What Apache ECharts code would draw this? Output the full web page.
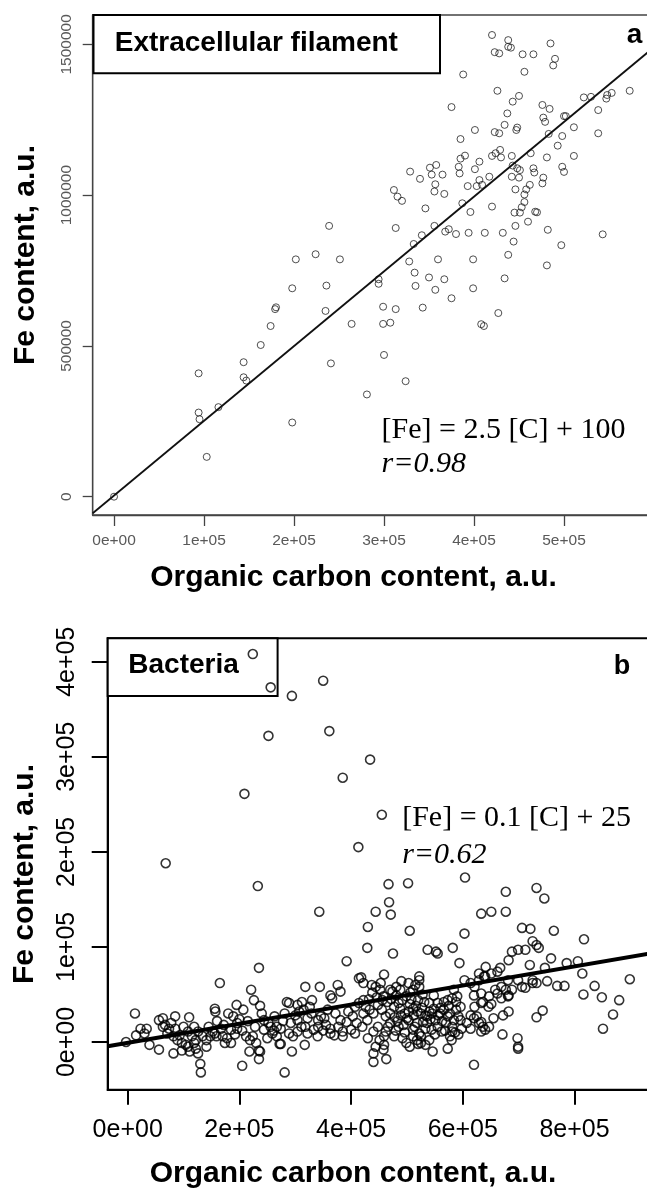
<!DOCTYPE html>
<html><head><meta charset="utf-8">
<script src="https://cdn.jsdelivr.net/npm/echarts@6.0.0/dist/echarts.min.js"></script>
<style>html,body{margin:0;padding:0;background:#fff}#c{width:647px;height:1188px}</style>
</head><body><div id="c"></div>
<script>
// ---- tick values and labels ----
const A_X_TICKS = [0, 100000, 200000, 300000, 400000, 500000];
const A_X_LABELS = ['0e+00', '1e+05', '2e+05', '3e+05', '4e+05', '5e+05'];
const A_Y_TICKS = [0, 500000, 1000000, 1500000];
const A_Y_LABELS = ['0', '500000', '1000000', '1500000'];
const B_X_TICKS = [0, 200000, 400000, 600000, 800000];
const B_X_LABELS = ['0e+00', '2e+05', '4e+05', '6e+05', '8e+05'];
const B_Y_TICKS = [0, 100000, 200000, 300000, 400000];
const B_Y_LABELS = ['0e+00', '1e+05', '2e+05', '3e+05', '4e+05'];

// ---- panel a: extracellular filament [organic carbon, Fe] ----
const A_POINTS = [
[420000,1531000],[438000,1514000],[438000,1492000],[441000,1489000],[423000,1474000],[428000,1470000],[454000,1467000],[466000,1467000],
[485000,1503000],[490000,1452000],[488000,1430000],[456000,1409000],[388000,1400000],[426000,1346000],[450000,1329000],[443000,1310000],
[375000,1292000],[476000,1299000],[484000,1286000],[437000,1271000],[477000,1257000],[479000,1243000],[500000,1262000],[502000,1262000],
[434000,1233000],[401000,1216000],[423000,1209000],[428000,1205000],[448000,1224000],[447000,1216000],[483000,1203000],[498000,1196000],
[511000,1225000],[385000,1186000],[493000,1164000],[522000,1324000],[530000,1326000],[547000,1320000],[548000,1332000],[553000,1339000],
[573000,1346000],[538000,1282000],[538000,1205000],[385000,1121000],[390000,1131000],[406000,1111000],[420000,1130000],[424000,1139000],
[429000,1150000],[430000,1125000],[442000,1130000],[463000,1139000],[481000,1125000],[511000,1130000],[383000,1094000],[384000,1072000],
[401000,1086000],[406000,1050000],[409000,1034000],[417000,1061000],[393000,1030000],[403000,1030000],[443000,1098000],[448000,1089000],
[451000,1083000],[466000,1089000],[467000,1075000],[498000,1094000],[500000,1077000],[442000,1061000],[450000,1058000],[462000,1034000],
[458000,1019000],[456000,1002000],[477000,1058000],[476000,1039000],[446000,1019000],
[351000,1091000],[358000,1100000],[365000,1068000],[353000,1068000],[329000,1078000],[340000,1054000],[357000,1036000],[356000,1012000],
[367000,1004000],[311000,1017000],[315000,995000],[320000,981000],[346000,956000],[313000,891000],[356000,898000],[368000,879000],
[372000,887000],[342000,867000],[333000,838000],[328000,780000],[360000,787000],[334000,743000],[335000,699000],[350000,727000],
[367000,721000],[357000,686000],[239000,898000],[202000,787000],[224000,804000],[251000,787000],[198000,691000],[236000,700000],
[294000,721000],[294000,706000],[387000,973000],[396000,944000],[420000,962000],[380000,871000],[394000,875000],[412000,875000],
[432000,875000],[399000,787000],[399000,691000],[375000,658000],[444000,846000],[438000,802000],[434000,724000],[482000,885000],
[497000,834000],[481000,767000],[543000,870000],[446000,898000],[460000,912000],[468000,945000],[470000,943000],[451000,942000],
[445000,942000],[453000,960000],[456000,977000],
[180000,628000],[179000,622000],[235000,616000],[174000,566000],[163000,503000],[144000,446000],[144000,396000],[147000,385000],
[94000,409000],[94000,279000],[95000,257000],[116000,297000],[103000,132000],[198000,246000],[0,0],[241000,442000],
[264000,573000],[299000,630000],[313000,622000],[343000,627000],[299000,573000],[307000,577000],[300000,470000],[324000,383000],
[281000,339000],[408000,572000],[411000,566000],[427000,609000]
];
const A_FIT = [[-23700, -55000], [604000, 1500400]];

// ---- panel b: bacteria [organic carbon, Fe] ----
const B_POINTS = [
[224000,408000],[256000,373000],[294000,364000],[350000,380000],[252000,322000],[361000,327000],[434000,297000],[385000,278000],
[209000,261000],[455000,239000],[413000,205000],[68000,188000],[233000,164000],[467000,166000],[502000,167000],[604000,173000],
[677000,158000],[732000,162000],[746000,151000],[444000,137000],[468000,147000],[471000,134000],[343000,137000],[633000,135000],
[651000,137000],[677000,137000],[430000,121000],[505000,117000],[603000,114000],[706000,120000],[721000,119000],[763000,117000],
[817000,108000],[725000,106000],[732000,102000],[736000,99000],[688000,95000],[699000,97000],[712000,97000],[429000,99000],
[475000,93000],[537000,97000],[552000,95000],[555000,93000],[582000,99000],[594000,83000],[758000,88000],[682000,86000],
[720000,81000],[747000,78000],[786000,83000],[806000,85000],[641000,79000],[667000,78000],[392000,85000],[235000,78000],
[459000,71000],[418000,68000],[522000,69000],[629000,72000],[638000,69000],[814000,72000],[836000,59000],[899000,66000],
[816000,50000],[849000,47000],[880000,44000],[869000,29000],[851000,14000],[712000,57000],[725000,62000],[751000,64000],
[769000,59000],[782000,59000],[743000,33000],[732000,26000],[698000,4000],[699000,-5000],[699000,-7000],[671000,8000],
[620000,-24000],[573000,-7000],[546000,-10000],[459000,-3000],[440000,-12000],[440000,-21000],[463000,-18000],[281000,-32000],
[294000,-10000],[272000,-2000],[317000,-3000],[205000,-25000],[235000,-9000],[235000,-18000],[130000,-23000],[131000,-32000],
[82000,-12000],[614000,28000],[620000,25000],[629000,20000],[636000,16000],[633000,11000],[581000,11000],[592000,8000],
[655000,25000],[672000,28000],[682000,32000],[620000,49000],[633000,51000],[636000,42000],[646000,37000],[651000,40000],
[662000,51000],[669000,46000],[677000,55000],[682000,49000],[681000,65000],
[13000,30000],[-3000,0],[15000,7000],[30000,9000],[23000,14000],[34000,14000],[39000,-3000],[56000,-8000],
[63000,25000],[85000,27000],[67000,18000],[74000,14000],[82000,6000],[89000,2000],[97000,-1000],[104000,-3000],
[110000,26000],[119000,16000],[126000,11000],[134000,6000],[141000,2000],[119000,-1000],[108000,-5000],[122000,-7000],
[156000,35000],[157000,32000],[165000,62000],[145000,16000],[152000,11000],[159000,6000],[167000,14000],[174000,-1000],
[185000,13000],[196000,20000],[200000,24000],[195000,39000],[207000,34000],[221000,55000],[226000,44000],[237000,38000],
[212000,6000],[219000,2000],[224000,6000],[230000,-1000],[218000,-10000],[237000,-10000],[244000,23000],[256000,16000],
[263000,27000],[267000,16000],[281000,30000],[285000,42000],[289000,41000],[304000,39000],[307000,32000],[274000,-2000],
[292000,20000],[304000,23000],[318000,16000],[318000,58000],[315000,34000],[326000,37000],[329000,30000],[322000,25000],
[341000,23000],[346000,27000],[352000,25000],[344000,58000],[363000,49000],[366000,46000],[376000,60000],[381000,53000],
[363000,9000],[381000,23000],[385000,11000],[403000,27000],[422000,30000],[407000,37000],[414000,41000],[422000,44000],
[414000,67000],[422000,62000],[437000,60000],[444000,58000],[453000,62000],[426000,37000],[433000,34000],[440000,30000],
[448000,39000],[455000,34000],[462000,27000],[470000,30000],[477000,37000],[485000,41000],[492000,44000],[499000,48000],
[429000,23000],[440000,11000],[448000,16000],[462000,11000],[470000,20000],[477000,6000],[485000,16000],[492000,4000],
[499000,-1000],[511000,13000],[518000,20000],[525000,6000],[533000,14000],[540000,2000],[481000,58000],[488000,55000],
[503000,62000],[511000,55000],[522000,58000],[522000,65000],[503000,32000],[511000,35000],[519000,32000],[525000,30000],
[533000,28000],[540000,32000],[548000,35000],[555000,41000],[566000,42000],[573000,44000],[581000,46000],[588000,42000],
[596000,37000],[592000,27000],[584000,23000],[577000,30000],[570000,20000],[540000,41000],[548000,49000],[555000,16000],
[562000,11000],[577000,6000],[584000,55000],[603000,65000],[614000,62000],[621000,58000],[607000,20000],[614000,14000],
[625000,27000],[633000,21000],[640000,13000],[647000,16000],[629000,65000],[640000,69000],[651000,72000],[662000,74000],
[699000,65000],[706000,58000],[725000,65000],[732000,62000],
[56000,23000],[63000,16000],[71000,9000],[78000,20000],[85000,14000],[93000,7000],[100000,16000],[108000,11000],
[115000,6000],[122000,2000],[97000,-9000],[111000,-10000],[126000,-12000],[141000,-5000],[148000,6000],[156000,9000],
[170000,6000],[178000,4000],[185000,-1000],[189000,27000],[196000,14000],
[244000,13000],[252000,20000],[259000,9000],[267000,6000],[274000,14000],[289000,9000],[296000,6000],[304000,11000],
[311000,16000],[322000,9000],[333000,13000],[341000,16000],[355000,18000],[363000,14000],[370000,7000],[377000,16000],
[385000,6000],[392000,21000],[400000,13000],[407000,9000],
[474000,53000],[481000,49000],[488000,35000],[496000,30000],[503000,23000],[514000,16000],[522000,9000],[529000,21000],
[536000,27000],[544000,13000],[551000,23000],[559000,30000],[566000,34000],[573000,27000],[581000,16000],[588000,34000],
[596000,23000],[511000,6000],[518000,2000],[525000,-1000],[533000,-3000],[466000,16000],[459000,6000],[451000,2000],
[444000,-5000],
[621000,37000],[633000,41000],[647000,48000],[658000,55000],[669000,58000],[681000,48000],[688000,55000],
[432000,45000],[438000,52000],[446000,47000],[452000,55000],[458000,48000],[465000,42000],[472000,45000],[478000,26000],
[483000,22000],[489000,28000],[494000,18000],[500000,25000],[505000,40000],[508000,45000],[512000,28000],[516000,38000],
[520000,44000],[527000,36000],[531000,42000],[536000,20000],[542000,24000],[545000,30000],[550000,8000],[556000,28000],
[560000,36000],[563000,22000],[568000,12000],[575000,38000],[580000,2000],[586000,10000],[590000,48000],[598000,14000],
[506000,52000],[515000,60000],[528000,50000],[490000,64000],[470000,55000],[456000,44000],[480000,12000],[496000,10000],
[505000,-5000],[520000,-2000],[458000,-8000],[430000,4000],[420000,16000],
[160000,22000],[172000,18000],[180000,30000],[192000,8000],[205000,12000],[215000,22000],[228000,16000],[240000,30000],
[250000,4000],[262000,12000],[278000,22000],[300000,28000],[312000,42000],[330000,44000],[340000,6000],[350000,12000],
[358000,34000],[372000,30000],[395000,32000],[410000,20000]
];
const B_FIT = [[-35810, -4500], [931600, 92700]];

// ---- texts ----
const TITLE_A = 'Extracellular filament';
const TITLE_B = 'Bacteria';
const EQ_A = ['[Fe] = 2.5 [C] + 100', 'r=0.98'];
const EQ_B = ['[Fe] = 0.1 [C] + 25', 'r=0.62'];
const X_NAME = 'Organic carbon content, a.u.';
const Y_NAME = 'Fe content, a.u.';

const SANS = '"Liberation Sans", Arial, sans-serif';
const SERIF = '"Liberation Serif", "Times New Roman", serif';
function fmt(ticks, labels) { return function (v) { const i = ticks.indexOf(v); return i < 0 ? '' : labels[i]; }; }

const chart = echarts.init(document.getElementById('c'), null, { renderer: 'canvas', width: 647, height: 1188 });

function axisCommon(color, labelColor, w, len, ticks, labels, fontSize, margin, rotate) {
  return {
    axisLine: { show: true, onZero: false, lineStyle: { color: color, width: w } },
    axisTick: { show: true, inside: false, length: len, customValues: ticks, lineStyle: { color: color, width: w } },
    axisLabel: { show: true, customValues: ticks, formatter: fmt(ticks, labels), rotate: rotate,
      color: labelColor, fontSize: fontSize, fontFamily: SANS, margin: margin },
    splitLine: { show: false }
  };
}

const option = {
  animation: false,
  backgroundColor: '#fff',
  grid: [
    { left: 92.7, top: 15, width: 564.9, height: 500, show: true, borderColor: '#444', borderWidth: 1.3,
      backgroundColor: 'rgba(0,0,0,0)', containLabel: false, outerBoundsMode: 'none' },
    { left: 107.7, top: 638.3, width: 540.3, height: 451.4, show: true, borderColor: '#000', borderWidth: 2,
      backgroundColor: 'rgba(0,0,0,0)', containLabel: false, outerBoundsMode: 'none' }
  ],
  xAxis: [
    Object.assign({ type: 'value', gridIndex: 0, min: -23700, max: 604000 },
      axisCommon('#444', '#595959', 1.3, 11, A_X_TICKS, A_X_LABELS, 15.5, 18, 0)),
    Object.assign({ type: 'value', gridIndex: 1, min: -35810, max: 931600 },
      axisCommon('#000', '#000', 2, 15, B_X_TICKS, B_X_LABELS, 25, 28, 0))
  ],
  yAxis: [
    Object.assign({ type: 'value', gridIndex: 0, min: -60700, max: 1597300 },
      axisCommon('#444', '#595959', 1.3, 10, A_Y_TICKS, A_Y_LABELS, 15.5, 17.5, 90)),
    Object.assign({ type: 'value', gridIndex: 1, min: -50170, max: 424590 },
      axisCommon('#000', '#000', 2, 16, B_Y_TICKS, B_Y_LABELS, 25, 28, 90))
  ],
  series: [
    { type: 'scatter', xAxisIndex: 0, yAxisIndex: 0, data: A_POINTS, symbol: 'circle', symbolSize: 7, z: 3, silent: true,
      itemStyle: { color: 'rgba(0,0,0,0)', borderColor: '#222', borderWidth: 1 } },
    { type: 'line', xAxisIndex: 0, yAxisIndex: 0, data: A_FIT, symbol: 'none', clip: true, z: 4, silent: true,
      lineStyle: { color: '#111', width: 1.8 } },
    { type: 'scatter', xAxisIndex: 1, yAxisIndex: 1, data: B_POINTS, symbol: 'circle', symbolSize: 9, z: 3, silent: true,
      itemStyle: { color: 'rgba(0,0,0,0)', borderColor: '#000', borderWidth: 1.6 } },
    { type: 'line', xAxisIndex: 1, yAxisIndex: 1, data: B_FIT, symbol: 'none', clip: true, z: 4, silent: true,
      lineStyle: { color: '#000', width: 4 } }
  ],
  graphic: [
    { type: 'rect', z: 1, shape: { x: 93.5, y: 15, width: 346.5, height: 58.3 }, style: { fill: '#fff', stroke: '#000', lineWidth: 2 } },
    { type: 'text', z: 10, x: 114.7, y: 43.2, style: { text: TITLE_A, font: 'bold 28px ' + SANS, fill: '#000', align: 'left', verticalAlign: 'middle' } },
    { type: 'text', z: 10, x: 634.5, y: 35.5, style: { text: 'a', font: 'bold 28px ' + SANS, fill: '#000', align: 'center', verticalAlign: 'middle' } },
    { type: 'text', z: 10, x: 381.6, y: 430, style: { text: EQ_A[0], font: '30px ' + SERIF, fill: '#000', align: 'left', verticalAlign: 'middle' } },
    { type: 'text', z: 10, x: 381.6, y: 464.5, style: { text: EQ_A[1], font: 'italic 30px ' + SERIF, fill: '#000', align: 'left', verticalAlign: 'middle' } },
    { type: 'text', z: 10, x: 25.7, y: 255, rotation: Math.PI / 2, style: { text: Y_NAME, font: 'bold 30px ' + SANS, fill: '#000', align: 'center', verticalAlign: 'middle' } },
    { type: 'text', z: 10, x: 353.5, y: 577.3, style: { text: X_NAME, font: 'bold 30px ' + SANS, fill: '#000', align: 'center', verticalAlign: 'middle' } },

    { type: 'rect', z: 1, shape: { x: 107.7, y: 638.3, width: 169.9, height: 57.7 }, style: { fill: '#fff', stroke: '#000', lineWidth: 2 } },
    { type: 'text', z: 10, x: 128.3, y: 665, style: { text: TITLE_B, font: 'bold 28px ' + SANS, fill: '#000', align: 'left', verticalAlign: 'middle' } },
    { type: 'text', z: 10, x: 622, y: 667, style: { text: 'b', font: 'bold 27px ' + SANS, fill: '#000', align: 'center', verticalAlign: 'middle' } },
    { type: 'text', z: 10, x: 402.2, y: 818.3, style: { text: EQ_B[0], font: '30px ' + SERIF, fill: '#000', align: 'left', verticalAlign: 'middle' } },
    { type: 'text', z: 10, x: 402.2, y: 855, style: { text: EQ_B[1], font: 'italic 30px ' + SERIF, fill: '#000', align: 'left', verticalAlign: 'middle' } },
    { type: 'text', z: 10, x: 24.5, y: 874, rotation: Math.PI / 2, style: { text: Y_NAME, font: 'bold 30px ' + SANS, fill: '#000', align: 'center', verticalAlign: 'middle' } },
    { type: 'text', z: 10, x: 353, y: 1174, style: { text: X_NAME, font: 'bold 30px ' + SANS, fill: '#000', align: 'center', verticalAlign: 'middle' } }
  ]
};
chart.setOption(option);
</script>
</body></html>
